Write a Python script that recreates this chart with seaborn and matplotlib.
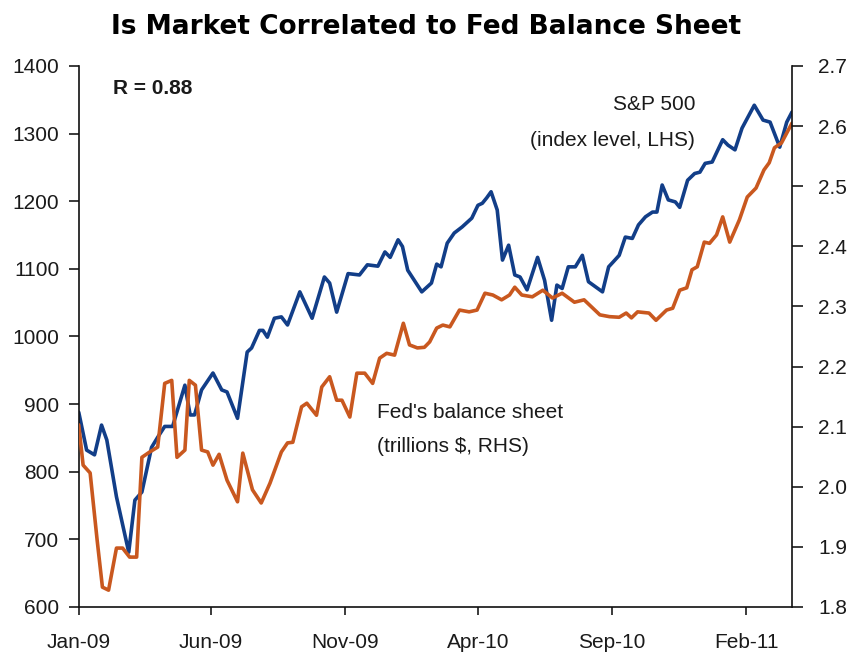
import pandas as pd
import numpy as np
import matplotlib.pyplot as plt
import matplotlib.dates as mdates
import matplotlib.ticker as mticker
import seaborn as sns

# S&P 500 index level (LHS) at line vertices
spx_dates = [
    '2009-01-01', '2009-01-10', '2009-01-19', '2009-01-27', '2009-02-02', '2009-02-13',
    '2009-02-27', '2009-03-06', '2009-03-14', '2009-03-25', '2009-04-01', '2009-04-09',
    '2009-04-18', '2009-05-02', '2009-05-08', '2009-05-13', '2009-05-21', '2009-06-03',
    '2009-06-13', '2009-06-19', '2009-07-01', '2009-07-12', '2009-07-17', '2009-07-26',
    '2009-07-30', '2009-08-04', '2009-08-12', '2009-08-20', '2009-08-27', '2009-09-10',
    '2009-09-24', '2009-10-08', '2009-10-14', '2009-10-22', '2009-11-04', '2009-11-17',
    '2009-11-26', '2009-12-08', '2009-12-16', '2009-12-22', '2009-12-31', '2010-01-05',
    '2010-01-11', '2010-01-27', '2010-02-07', '2010-02-13', '2010-02-18', '2010-02-25',
    '2010-03-05', '2010-03-14', '2010-03-25', '2010-04-01', '2010-04-06', '2010-04-11',
    '2010-04-16', '2010-04-23', '2010-04-29', '2010-05-06', '2010-05-13', '2010-05-19',
    '2010-05-27', '2010-06-08', '2010-06-16', '2010-06-24', '2010-06-30', '2010-07-06',
    '2010-07-13', '2010-07-21', '2010-07-29', '2010-08-05', '2010-08-21', '2010-08-28',
    '2010-09-02', '2010-09-09', '2010-09-16', '2010-09-24', '2010-10-01', '2010-10-09',
    '2010-10-17', '2010-10-22', '2010-10-28', '2010-11-04', '2010-11-12', '2010-11-17',
    '2010-11-26', '2010-12-04', '2010-12-10', '2010-12-16', '2010-12-24', '2011-01-05',
    '2011-01-11', '2011-01-19', '2011-01-27', '2011-02-10', '2011-02-20', '2011-02-28',
    '2011-03-11', '2011-03-19', '2011-03-25',
]
spx_values = [
    888, 832, 825, 869, 847, 763,
    681, 758, 770, 836, 851, 867,
    867, 928, 884, 884, 921, 946,
    921, 918, 879, 977, 983, 1009,
    1009, 999, 1027, 1029, 1017, 1066,
    1027, 1088, 1079, 1036, 1093, 1091,
    1106, 1104, 1125, 1117, 1143, 1133,
    1098, 1066, 1079, 1107, 1103, 1138,
    1153, 1162, 1175, 1194, 1197, 1205,
    1214, 1187, 1113, 1135, 1091, 1088,
    1069, 1117, 1083, 1024, 1076, 1071,
    1103, 1103, 1120, 1081, 1066, 1103,
    1110, 1120, 1147, 1145, 1165, 1177,
    1184, 1184, 1224, 1202, 1199, 1191,
    1231, 1241, 1243, 1256, 1258, 1291,
    1283, 1276, 1308, 1342, 1320, 1317,
    1280, 1317, 1332,
]

# Fed balance sheet, trillions $ (RHS)
fed_dates = [
    '2009-01-01', '2009-01-06', '2009-01-14', '2009-01-22', '2009-01-28', '2009-02-04',
    '2009-02-13', '2009-02-20', '2009-02-28', '2009-03-08', '2009-03-14', '2009-03-23',
    '2009-04-01', '2009-04-09', '2009-04-17', '2009-04-23', '2009-05-02', '2009-05-07',
    '2009-05-14', '2009-05-21', '2009-05-28', '2009-06-03', '2009-06-10', '2009-06-19',
    '2009-07-01', '2009-07-07', '2009-07-18', '2009-07-28', '2009-08-07', '2009-08-20',
    '2009-08-27', '2009-09-02', '2009-09-12', '2009-09-18', '2009-09-29', '2009-10-05',
    '2009-10-14', '2009-10-22', '2009-10-28', '2009-11-06', '2009-11-14', '2009-11-23',
    '2009-12-02', '2009-12-10', '2009-12-18', '2009-12-27', '2010-01-06', '2010-01-13',
    '2010-01-22', '2010-01-30', '2010-02-05', '2010-02-13', '2010-02-20', '2010-02-28',
    '2010-03-11', '2010-03-22', '2010-03-31', '2010-04-09', '2010-04-18', '2010-04-28',
    '2010-05-07', '2010-05-13', '2010-05-21', '2010-06-02', '2010-06-14', '2010-06-25',
    '2010-07-06', '2010-07-20', '2010-07-31', '2010-08-18', '2010-08-29', '2010-09-09',
    '2010-09-17', '2010-09-23', '2010-09-30', '2010-10-13', '2010-10-21', '2010-11-02',
    '2010-11-09', '2010-11-17', '2010-11-25', '2010-12-01', '2010-12-07', '2010-12-15',
    '2010-12-21', '2010-12-29', '2011-01-05', '2011-01-13', '2011-01-24', '2011-02-02',
    '2011-02-12', '2011-02-21', '2011-02-27', '2011-03-05', '2011-03-13', '2011-03-25',
]
fed_values = [
    2.103, 2.036, 2.023, 1.911, 1.833, 1.828,
    1.898, 1.898, 1.883, 1.883, 2.049, 2.058,
    2.066, 2.172, 2.177, 2.049, 2.061, 2.177,
    2.169, 2.061, 2.058, 2.036, 2.054, 2.011,
    1.975, 2.056, 1.995, 1.973, 2.006, 2.058,
    2.073, 2.074, 2.133, 2.139, 2.119, 2.166,
    2.183, 2.144, 2.144, 2.116, 2.189, 2.189,
    2.172, 2.214, 2.222, 2.219, 2.272, 2.236,
    2.231, 2.232, 2.241, 2.264, 2.269, 2.266,
    2.294, 2.291, 2.294, 2.322, 2.319, 2.311,
    2.319, 2.332, 2.319, 2.316, 2.327, 2.314,
    2.322, 2.307, 2.311, 2.286, 2.283, 2.282,
    2.289, 2.281, 2.291, 2.289, 2.277, 2.294,
    2.297, 2.327, 2.331, 2.361, 2.366, 2.407,
    2.405, 2.419, 2.449, 2.407, 2.444, 2.482,
    2.497, 2.527, 2.539, 2.564, 2.572, 2.605,
]

x_tick_dates = ['2009-01-01', '2009-06-01', '2009-11-01', '2010-04-01', '2010-09-01', '2011-02-01']
x_tick_labels = ['Jan-09', 'Jun-09', 'Nov-09', 'Apr-10', 'Sep-10', 'Feb-11']
left_ticks = [600, 700, 800, 900, 1000, 1100, 1200, 1300, 1400]
right_ticks = [1.8, 1.9, 2.0, 2.1, 2.2, 2.3, 2.4, 2.5, 2.6, 2.7]

spx = pd.DataFrame({'date': pd.to_datetime(spx_dates), 'value': spx_values})
fed = pd.DataFrame({'date': pd.to_datetime(fed_dates), 'value': fed_values})

sns.set_style('ticks')
plt.rcParams['font.family'] = ['Liberation Sans', 'DejaVu Sans']

blue = '#123E88'
orange = '#C9581F'
text_col = '#1a1a1a'

fig = plt.figure(figsize=(8.53, 6.56), dpi=100)
ax = fig.add_axes([0.0923, 0.0747, 0.8362, 0.8247])
ax2 = ax.twinx()

sns.lineplot(data=spx, x='date', y='value', ax=ax, color=blue, linewidth=2.6)
sns.lineplot(data=fed, x='date', y='value', ax=ax2, color=orange, linewidth=2.6)

ax.set_xlim(pd.Timestamp('2009-01-01'), pd.Timestamp('2011-03-25'))
ax.set_ylim(600, 1400)
ax2.set_ylim(1.8, 2.7)

ax.set_xticks(pd.to_datetime(x_tick_dates))
ax.set_xticklabels(x_tick_labels)
ax.set_yticks(left_ticks)
ax2.set_yticks(right_ticks)
ax2.yaxis.set_major_formatter(mticker.FormatStrFormatter('%.1f'))

for a in (ax, ax2):
    a.set_xlabel('')
    a.set_ylabel('')
    a.spines['top'].set_visible(False)
    for s in a.spines.values():
        s.set_color('#111111')
        s.set_linewidth(1.2)
ax.spines['right'].set_visible(False)
ax2.spines['left'].set_visible(False)
ax2.spines['bottom'].set_visible(False)

ax.tick_params(axis='y', direction='out', length=7, width=1.2, labelsize=15, pad=7, colors=text_col)
ax.tick_params(axis='x', direction='out', length=6, width=1.2, labelsize=15, pad=13, colors=text_col)
ax2.tick_params(axis='y', direction='out', length=8, width=1.2, labelsize=15, pad=11, colors=text_col)

fig.suptitle('Is Market Correlated to Fed Balance Sheet', x=0.5, y=0.978,
             fontsize=19, fontweight='bold', family=['DejaVu Sans'], color='black')

ax.text(0.048, 0.959, 'R = 0.88', transform=ax.transAxes, fontsize=15,
        fontweight='bold', ha='left', va='center', color=text_col)
ax.text(0.864, 0.928, 'S&P 500', transform=ax.transAxes, fontsize=15,
        ha='right', va='center', color=text_col)
ax.text(0.864, 0.863, '(index level, LHS)', transform=ax.transAxes, fontsize=15,
        ha='right', va='center', color=text_col)
ax.text(0.418, 0.360, "Fed's balance sheet", transform=ax.transAxes, fontsize=15,
        ha='left', va='center', color=text_col)
ax.text(0.418, 0.296, '(trillions $, RHS)', transform=ax.transAxes, fontsize=15,
        ha='left', va='center', color=text_col)

fig.savefig('out.png', dpi=100)
